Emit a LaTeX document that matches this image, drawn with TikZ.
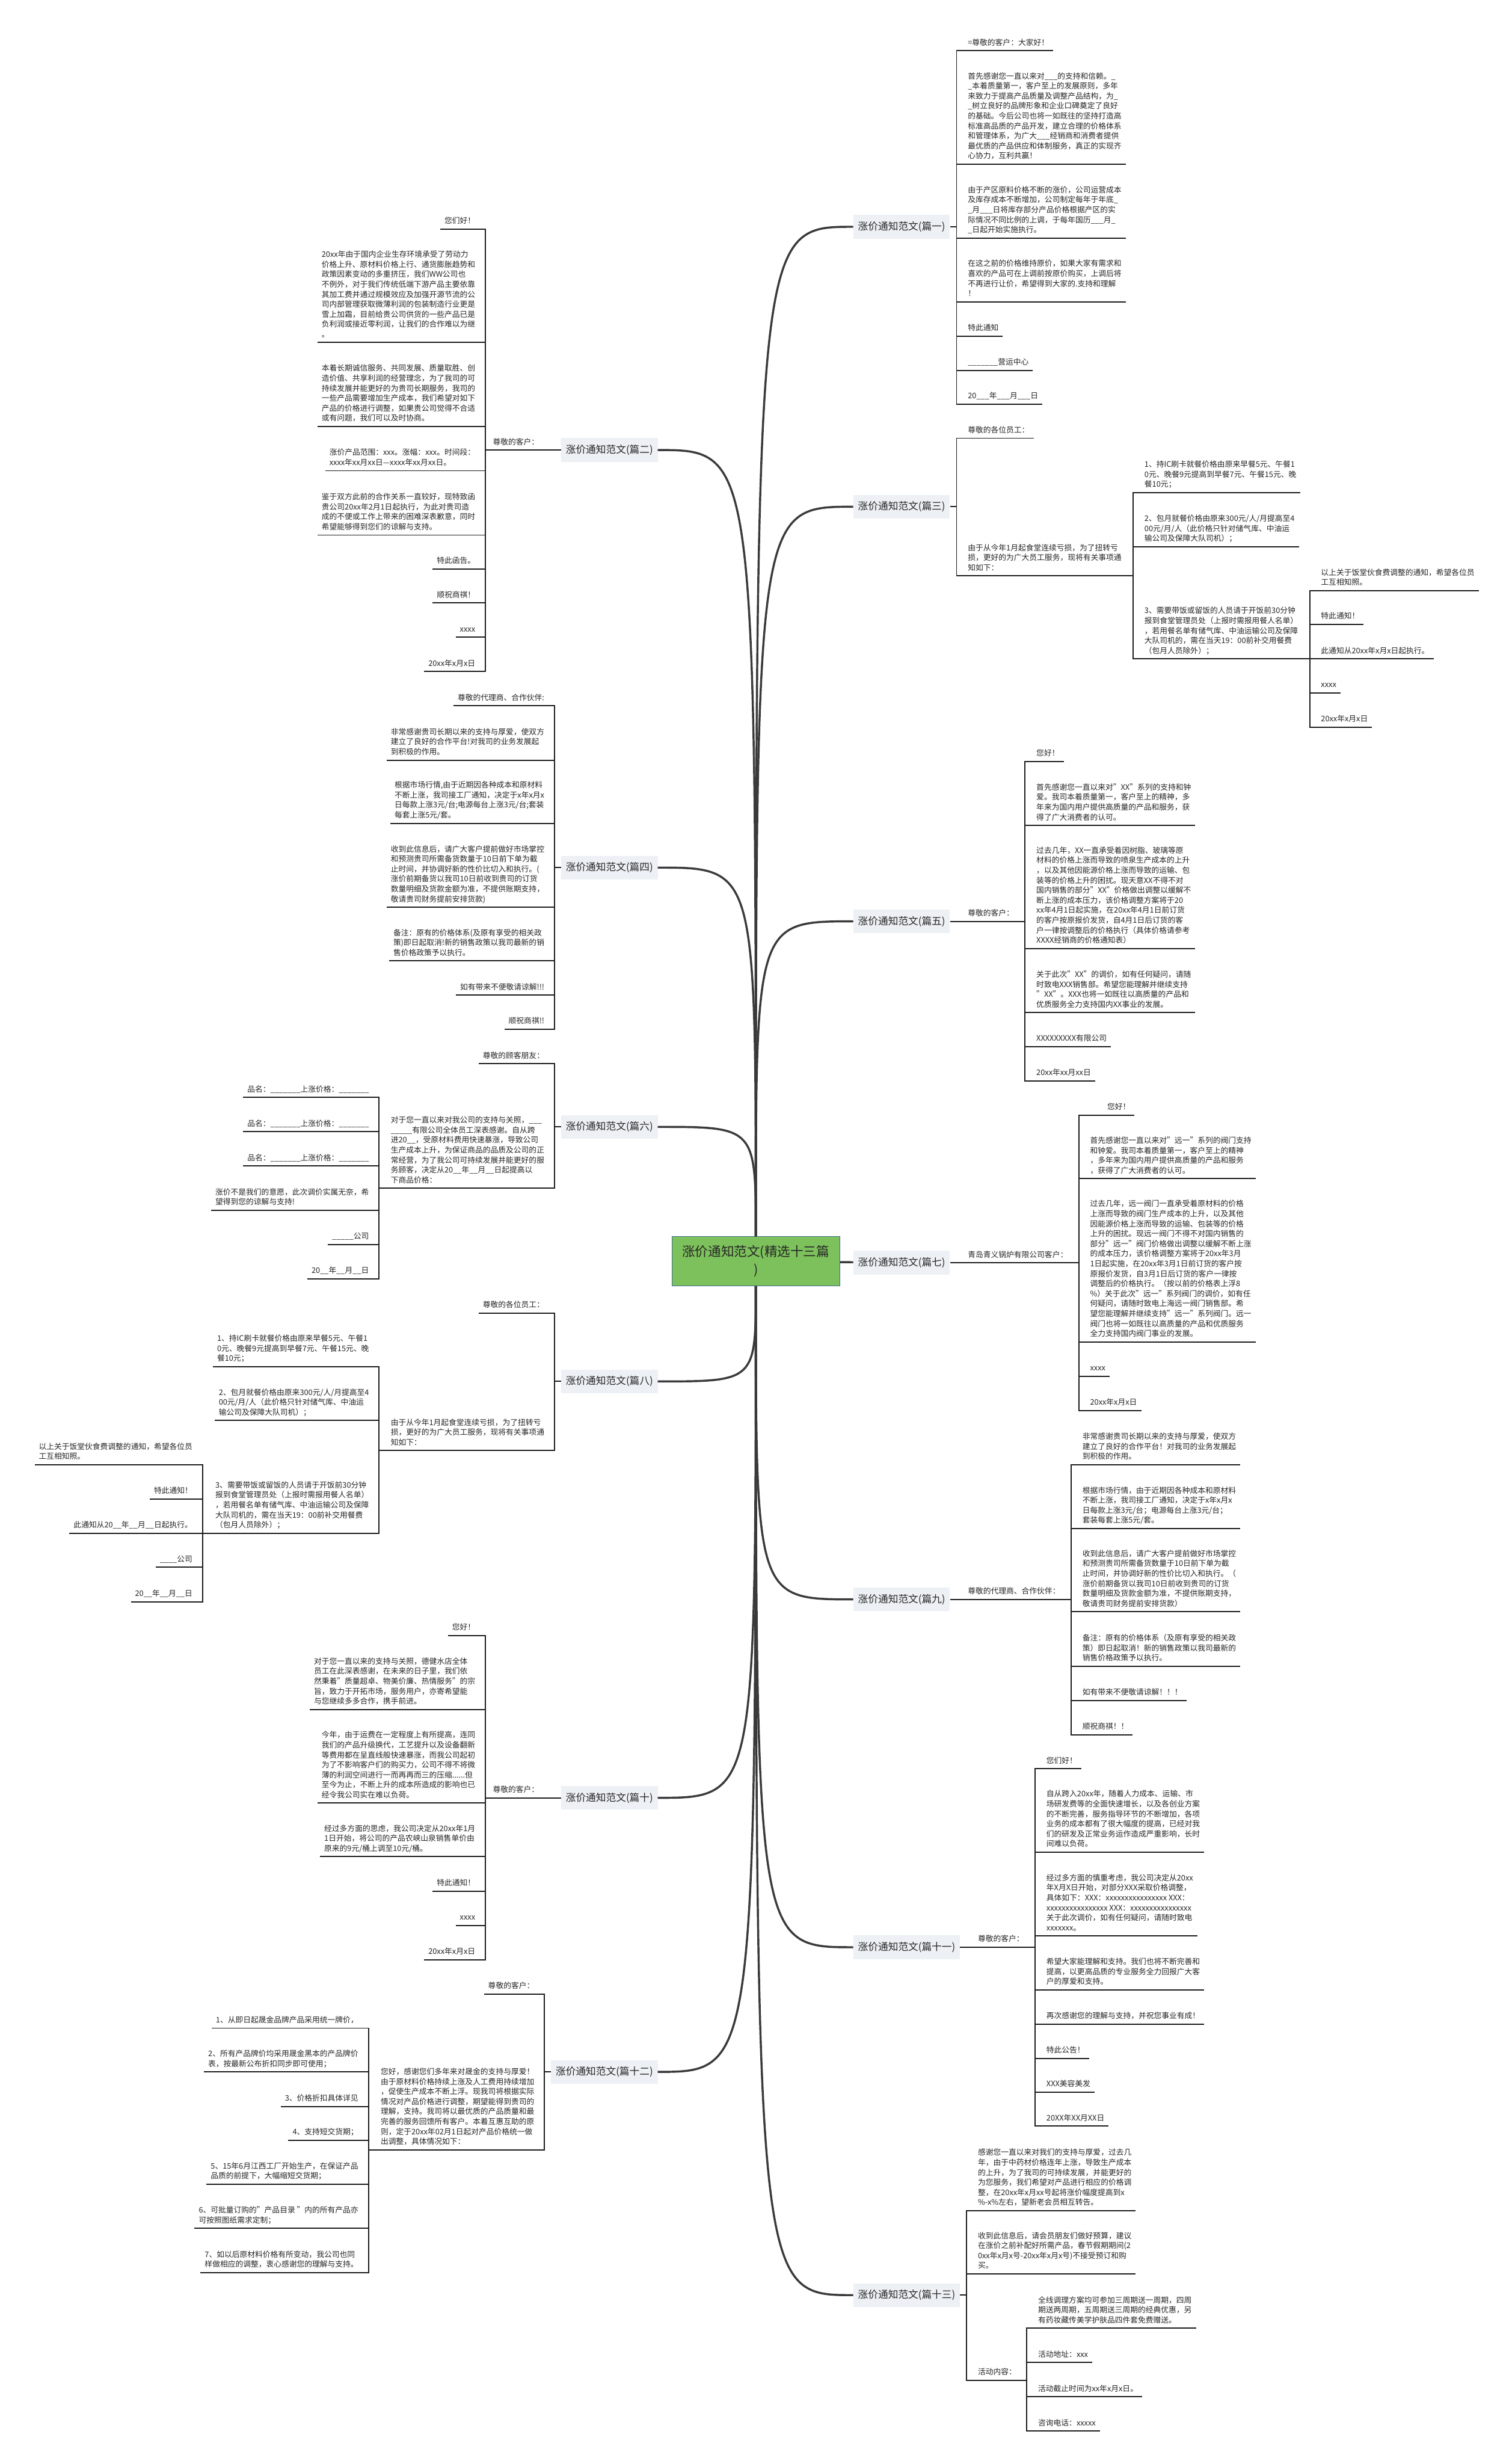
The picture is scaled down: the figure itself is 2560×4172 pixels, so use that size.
\documentclass[tikz,border=0pt]{standalone}
\usepackage{fontspec}
\setmainfont{Noto Sans CJK SC}
\definecolor{labfill}{RGB}{237,240,244}
\definecolor{rootfill}{RGB}{125,193,92}
\definecolor{rootline}{RGB}{62,108,140}
\definecolor{txt}{RGB}{38,38,38}
\definecolor{linec}{RGB}{28,28,28}
\definecolor{trunkc}{RGB}{58,58,58}
\newcommand{\leaffont}{\fontsize{13pt}{16.9pt}\selectfont}
\newcommand{\branchfont}{\fontsize{17pt}{20pt}\selectfont}
\newcommand{\rootfont}{\fontsize{22pt}{31pt}\selectfont}

\begin{document}
\begin{tikzpicture}[x=1pt, y=-1pt,
    leaf/.style={inner xsep=7pt, inner ysep=9pt, text depth=0pt, align=left, font=\leaffont, text=txt},
    leafr/.style={leaf, anchor=south west},
    leafl/.style={leaf, anchor=south east},
    branch/.style={fill=labfill, font=\branchfont, text=txt, inner xsep=8pt, minimum height=40pt},
    rootbox/.style={fill=rootfill, draw=rootline, line width=1pt, font=\rootfont, text=black!85, align=center, minimum width=284pt, minimum height=83pt},
    conn/.style={draw=linec, line width=2pt},
    trunk/.style={draw=trunkc, line width=3.5pt}]
\fill[white] (0,0) rectangle (2560,4172);
\useasboundingbox (0,0) rectangle (2560,4172);

% Nodes
\node[rootbox] (root) at (1280,2135.5) {涨价通知范文(精选十三篇\\)};
\node[branch, anchor=west] (t1) at (1445,384) {涨价通知范文(篇一)};
\node[branch, anchor=west] (t3) at (1445,858) {涨价通知范文(篇三)};
\node[branch, anchor=west] (t5) at (1445,1560) {涨价通知范文(篇五)};
\node[branch, anchor=west] (t7) at (1445,2138) {涨价通知范文(篇七)};
\node[branch, anchor=west] (t9) at (1445,2708) {涨价通知范文(篇九)};
\node[branch, anchor=west] (t11) at (1445,3297) {涨价通知范文(篇十一)};
\node[branch, anchor=west] (t13) at (1445,3886) {涨价通知范文(篇十三)};
\node[branch, anchor=east] (t2) at (1114,762) {涨价通知范文(篇二)};
\node[branch, anchor=east] (t4) at (1114,1469) {涨价通知范文(篇四)};
\node[branch, anchor=east] (t6) at (1114,1908) {涨价通知范文(篇六)};
\node[branch, anchor=east] (t8) at (1114,2339) {涨价通知范文(篇八)};
\node[branch, anchor=east] (t10) at (1114,3044) {涨价通知范文(篇十)};
\node[branch, anchor=east] (t12) at (1114,3508) {涨价通知范文(篇十二)};

\coordinate (s1) at (1620,384);
\coordinate (s3) at (1620,858);
\coordinate (s3b) at (1919,975);
\coordinate (s3e) at (2218,1115.6);
\coordinate (s5) at (1736,1560);
\coordinate (s7) at (1827,2138);
\coordinate (s9) at (1814,2708);
\coordinate (s11) at (1753,3297);
\coordinate (s13) at (1637,3886);
\coordinate (s13c) at (1739,4030);
\coordinate (s2) at (822,762);
\coordinate (s4) at (939,1469);
\coordinate (s6) at (939,1908);
\coordinate (s6b) at (642,2012);
\coordinate (s8) at (939,2339);
\coordinate (s8b) at (642,2456);
\coordinate (s8e) at (343,2596);
\coordinate (s10) at (822,3044);
\coordinate (s12) at (922,3508);
\coordinate (s12b) at (624,3640);

% 篇一
\node[leafr] (n1a) at (1632,86) {=尊敬的客户：大家好！};
\node[leafr] (n1b) at (1632,278) {首先感谢您一直以来对\_\_\_的支持和信赖。\_\\\_本着质量第一，客户至上的发展原则，多年\\来致力于提高产品质量及调整产品结构，为\_\\\_树立良好的品牌形象和企业口碑奠定了良好\\的基础。今后公司也将一如既往的坚持打造高\\标准高品质的产品开发，建立合理的价格体系\\和管理体系，为广大\_\_\_经销商和消费者提供\\最优质的产品供应和体制服务，真正的实现齐\\心协力，互利共赢！};
\node[leafr] (n1c) at (1632,403) {由于产区原料价格不断的涨价，公司运营成本\\及库存成本不断增加，公司制定每年于年底\_\\\_月\_\_\_日将库存部分产品价格根据产区的实\\际情况不同比例的上调，于每年国历\_\_\_月\_\\\_日起开始实施执行。};
\node[leafr] (n1d) at (1632,511) {在这之前的价格维持原价，如果大家有需求和\\喜欢的产品可在上调前按原价购买，上调后将\\不再进行让价，希望得到大家的.支持和理解\\！};
\node[leafr] (n1e) at (1632,569) {特此通知};
\node[leafr] (n1f) at (1632,627) {\_\_\_\_\_\_\_营运中心};
\node[leafr] (n1g) at (1632,684) {20\_\_\_年\_\_\_月\_\_\_日};

% 篇三
\node[leafr] (n3a) at (1632,742) {尊敬的各位员工：};
\node[leafr] (n3b) at (1632,975) {由于从今年1月起食堂连续亏损，为了扭转亏\\损，更好的为广大员工服务，现将有关事项通\\知如下：};
\node[leafr] (n3c) at (1931,834) {1、持IC刷卡就餐价格由原来早餐5元、午餐1\\0元、晚餐9元提高到早餐7元、午餐15元、晚\\餐10元；};
\node[leafr] (n3d) at (1931,925.5) {2、包月就餐价格由原来300元/人/月提高至4\\00元/月/人（此价格只针对储气库、中油运\\输公司及保障大队司机）；};
\node[leafr] (n3e) at (1931,1115.6) {3、需要带饭或留饭的人员请于开饭前30分钟\\报到食堂管理员处（上报时需报用餐人名单）\\，若用餐名单有储气库、中油运输公司及保障\\大队司机的，需在当天19：00前补交用餐费\\（包月人员除外）；};
\node[leafr] (n3f) at (2230,1000) {以上关于饭堂伙食费调整的通知，希望各位员\\工互相知照。};
\node[leafr] (n3g) at (2230,1057) {特此通知！};
\node[leafr] (n3h) at (2230,1115.6) {此通知从20xx年x月x日起执行。};
\node[leafr] (n3i) at (2230,1173) {xxxx};
\node[leafr] (n3j) at (2230,1231) {20xx年x月x日};

% 篇五
\node[leafr] (m5) at (1632,1560) {尊敬的客户：};
\node[leafr] (n5a) at (1748,1289) {您好！};
\node[leafr] (n5b) at (1748,1397.5) {首先感谢您一直以来对"XX"系列的支持和钟\\爱。我司本着质量第一，客户至上的精神，多\\年来为国内用户提供高质量的产品和服务，获\\得了广大消费者的认可。};
\node[leafr] (n5c) at (1748,1606) {过去几年，XX一直承受着因树脂、玻璃等原\\材料的价格上涨而导致的喷泉生产成本的上升\\，以及其他因能源价格上涨而导致的运输、包\\装等的价格上升的困扰。现天意XX不得不对\\国内销售的部分"XX"价格做出调整以缓解不\\断上涨的成本压力，该价格调整方案将于20\\xx年4月1日起实施，在20xx年4月1日前订货\\的客户按原报价发货，自4月1日后订货的客\\户一律按调整后的价格执行（具体价格请参考\\XXXX经销商的价格通知表）};
\node[leafr] (n5d) at (1748,1714.6) {关于此次"XX"的调价，如有任何疑问，请随\\时致电XXX销售部。希望您能理解并继续支持\\"XX"。XXX也将一如既往以高质量的产品和\\优质服务全力支持国内XX事业的发展。};
\node[leafr] (n5e) at (1748,1772) {XXXXXXXXX有限公司};
\node[leafr] (n5f) at (1748,1830) {20xx年xx月xx日};

% 篇七
\node[leafr] (m7) at (1632,2138) {青岛青义锅炉有限公司客户：};
\node[leafr] (n7a) at (1868,1888) {您好！};
\node[leafr] (n7b) at (1839,1995.6) {首先感谢您一直以来对"远一"系列的阀门支持\\和钟爱。我司本着质量第一，客户至上的精神\\，多年来为国内用户提供高质量的产品和服务\\，获得了广大消费者的认可。};
\node[leafr] (n7c) at (1839,2272) {过去几年，远一阀门一直承受着原材料的价格\\上涨而导致的阀门生产成本的上升，以及其他\\因能源价格上涨而导致的运输、包装等的价格\\上升的困扰。现远一阀门不得不对国内销售的\\部分"远一"阀门价格做出调整以缓解不断上涨\\的成本压力，该价格调整方案将于20xx年3月\\1日起实施，在20xx年3月1日前订货的客户按\\原报价发货，自3月1日后订货的客户一律按\\调整后的价格执行。（按以前的价格表上浮8\\\%）关于此次"远一"系列阀门的调价，如有任\\何疑问，请随时致电上海远一阀门销售部。希\\望您能理解并继续支持"远一"系列阀门。远一\\阀门也将一如既往以高质量的产品和优质服务\\全力支持国内阀门事业的发展。};
\node[leafr] (n7d) at (1839,2330) {xxxx};
\node[leafr] (n7e) at (1839,2388) {20xx年x月x日};

% 篇九
\node[leafr] (m9) at (1632,2708) {尊敬的代理商、合作伙伴：};
\node[leafr] (n9a) at (1826,2480) {非常感谢贵司长期以来的支持与厚爱，使双方\\建立了良好的合作平台！对我司的业务发展起\\到积极的作用。};
\node[leafr] (n9b) at (1826,2588) {根据市场行情，由于近期因各种成本和原材料\\不断上涨，我司接工厂通知，决定于x年x月x\\日每款上涨3元/台；电源每台上涨3元/台；\\套装每套上涨5元/套。};
\node[leafr] (n9c) at (1826,2729) {收到此信息后，请广大客户提前做好市场掌控\\和预测贵司所需备货数量于10日前下单为截\\止时间，并协调好新的性价比切入和执行。（\\涨价前期备货以我司10日前收到贵司的订货\\数量明细及货款金额为准，不提供账期支持，\\敬请贵司财务提前安排货款）};
\node[leafr] (n9d) at (1826,2821) {备注：原有的价格体系（及原有享受的相关政\\策）即日起取消！新的销售政策以我司最新的\\销售价格政策予以执行。};
\node[leafr] (n9e) at (1826,2879) {如有带来不便敬请谅解！！！};
\node[leafr] (n9f) at (1826,2937) {顺祝商祺！！};

% 篇十一
\node[leafr] (m11) at (1649,3297) {尊敬的客户：};
\node[leafr] (n11a) at (1765,2995) {您们好！};
\node[leafr] (n11b) at (1765,3136) {自从跨入20xx年，随着人力成本、运输、市\\场研发费等的全面快速增长，以及各创业方案\\的不断完善，服务指导环节的不断增加，各项\\业务的成本都有了很大幅度的提高，已经对我\\们的研发及正常业务运作造成严重影响，长时\\间难以负荷。};
\node[leafr] (n11c) at (1765,3278) {经过多方面的慎重考虑，我公司决定从20xx\\年X月X日开始，对部分XXX采取价格调整，\\具体如下：XXX：xxxxxxxxxxxxxxxx XXX：\\xxxxxxxxxxxxxxxx XXX：xxxxxxxxxxxxxxxx\\关于此次调价，如有任何疑问，请随时致电\\xxxxxxx。};
\node[leafr] (n11d) at (1765,3369) {希望大家能理解和支持。我们也将不断完善和\\提高，以更高品质的专业服务全力回报广大客\\户的厚爱和支持。};
\node[leafr] (n11e) at (1765,3427) {再次感谢您的理解与支持，并祝您事业有成！};
\node[leafr] (n11f) at (1765,3485) {特此公告！};
\node[leafr] (n11g) at (1765,3542) {XXX美容美发};
\node[leafr] (n11h) at (1765,3600) {20XX年XX月XX日};

% 篇十三
\node[leafr] (n13a) at (1649,3743) {感谢您一直以来对我们的支持与厚爱，过去几\\年，由于中药材价格连年上涨，导致生产成本\\的上升，为了我司的可持续发展，并能更好的\\为您服务，我们希望对产品进行相应的价格调\\整，在20xx年x月xx号起将涨价幅度提高到x\\\%-x\%左右，望新老会员相互转告。};
\node[leafr] (n13b) at (1649,3850) {收到此信息后，请会员朋友们做好预算，建议\\在涨价之前补配好所需产品，春节假期期间(2\\0xx年x月x号-20xx年x月x号)不接受预订和购\\买。};
\node[leafr] (n13c) at (1649,4030) {活动内容：};
\node[leafr] (n13d) at (1751,3942) {全线调理方案均可参加三周期送一周期，四周\\期送两周期，五周期送三周期的经典优惠，另\\有药妆藏传美学护肤品四件套免费赠送。};
\node[leafr] (n13e) at (1751,4000) {活动地址：xxx};
\node[leafr] (n13f) at (1751,4058) {活动截止时间为xx年x月x日。};
\node[leafr] (n13g) at (1751,4116) {咨询电话：xxxxx};

% 篇二
\node[leafl] (m2) at (920,762) {尊敬的客户：};
\node[leafl] (n2a) at (812,388) {您们好！};
\node[leafl] (n2b) at (812,580) {20xx年由于国内企业生存环境承受了劳动力\\价格上升、原材料价格上行、通货膨胀趋势和\\政策因素变动的多重挤压，我们WW公司也\\不例外，对于我们传统低端下游产品主要依靠\\其加工费并通过规模效应及加强开源节流的公\\司内部管理获取微薄利润的包装制造行业更是\\雪上加霜，目前给贵公司供货的一些产品已是\\负利润或接近零利润，让我们的合作难以为继\\。};
\node[leafl] (n2c) at (812,722) {本着长期诚信服务、共同发展、质量取胜、创\\造价值、共享利润的经营理念，为了我司的可\\持续发展并能更好的为贵司长期服务，我司的\\一些产品需要增加生产成本，我们希望对如下\\产品的价格进行调整，如果贵公司觉得不合适\\或有问题，我们可以及时协商。};
\node[leafl] (n2d) at (812,797) {涨价产品范围：xxx。涨幅：xxx。时间段：\\xxxx年xx月xx日—xxxx年xx月xx日。};
\node[leafl] (n2e) at (812,906) {鉴于双方此前的合作关系一直较好，现特致函\\贵公司20xx年2月1日起执行，为此对贵司造\\成的不便或工作上带来的困难深表歉意，同时\\希望能够得到您们的谅解与支持。};
\node[leafl] (n2f) at (812,963.5) {特此函告。};
\node[leafl] (n2g) at (812,1021) {顺祝商祺！};
\node[leafl] (n2h) at (812,1079) {xxxx};
\node[leafl] (n2i) at (812,1137) {20xx年x月x日};

% 篇四
\node[leafl] (n4a) at (929,1195) {尊敬的代理商、合作伙伴:};
\node[leafl] (n4b) at (929,1287) {非常感谢贵司长期以来的支持与厚爱，使双方\\建立了良好的合作平台!对我司的业务发展起\\到积极的作用。};
\node[leafl] (n4c) at (929,1394) {根据市场行情,由于近期因各种成本和原材料\\不断上涨，我司接工厂通知，决定于x年x月x\\日每款上涨3元/台;电源每台上涨3元/台;套装\\每套上涨5元/套。};
\node[leafl] (n4d) at (929,1536) {收到此信息后，请广大客户提前做好市场掌控\\和预测贵司所需备货数量于10日前下单为截\\止时间，并协调好新的性价比切入和执行。(\\涨价前期备货以我司10日前收到贵司的订货\\数量明细及货款金额为准，不提供账期支持，\\敬请贵司财务提前安排货款)};
\node[leafl] (n4e) at (929,1627) {备注：原有的价格体系(及原有享受的相关政\\策)即日起取消!新的销售政策以我司最新的销\\售价格政策予以执行。};
\node[leafl] (n4f) at (929,1685) {如有带来不便敬请谅解!!!};
\node[leafl] (n4g) at (929,1742.5) {顺祝商祺!!};

% 篇六
\node[leafl] (n6a) at (929,1801) {尊敬的顾客朋友：};
\node[leafl] (n6b) at (929,2012) {对于您一直以来对我公司的支持与关照，\_\_\_\\\_\_\_\_\_有限公司全体员工深表感谢。自从跨\\进20\_\_，受原材料费用快速暴涨，导致公司\\生产成本上升，为保证商品的品质及公司的正\\常经营，为了我公司可持续发展并能更好的服\\务顾客，决定从20\_\_年\_\_月\_\_日起提高以\\下商品价格：};
\node[leafl] (n6c) at (632,1858) {品名：\_\_\_\_\_\_\_上涨价格：\_\_\_\_\_\_\_};
\node[leafl] (n6d) at (632,1916) {品名：\_\_\_\_\_\_\_上涨价格：\_\_\_\_\_\_\_};
\node[leafl] (n6e) at (632,1974) {品名：\_\_\_\_\_\_\_上涨价格：\_\_\_\_\_\_\_};
\node[leafl] (n6f) at (632,2049) {涨价不是我们的意愿，此次调价实属无奈，希\\望得到您的谅解与支持!};
\node[leafl] (n6g) at (632,2107) {\_\_\_\_\_公司};
\node[leafl] (n6h) at (632,2165) {20\_\_年\_\_月\_\_日};

% 篇八
\node[leafl] (n8a) at (929,2223) {尊敬的各位员工：};
\node[leafl] (n8b) at (929,2456) {由于从今年1月起食堂连续亏损，为了扭转亏\\损，更好的为广大员工服务，现将有关事项通\\知如下：};
\node[leafl] (n8c) at (632,2314) {1、持IC刷卡就餐价格由原来早餐5元、午餐1\\0元、晚餐9元提高到早餐7元、午餐15元、晚\\餐10元；};
\node[leafl] (n8d) at (632,2405) {2、包月就餐价格由原来300元/人/月提高至4\\00元/月/人（此价格只针对储气库、中油运\\输公司及保障大队司机）；};
\node[leafl] (n8e) at (632,2596) {3、需要带饭或留饭的人员请于开饭前30分钟\\报到食堂管理员处（上报时需报用餐人名单）\\，若用餐名单有储气库、中油运输公司及保障\\大队司机的，需在当天19：00前补交用餐费\\（包月人员除外）；};
\node[leafl] (n8f) at (333,2480) {以上关于饭堂伙食费调整的通知，希望各位员\\工互相知照。};
\node[leafl] (n8g) at (333,2538) {特此通知！};
\node[leafl] (n8h) at (333,2596) {此通知从20\_\_年\_\_月\_\_日起执行。};
\node[leafl] (n8i) at (333,2653.5) {\_\_\_\_公司};
\node[leafl] (n8j) at (333,2712) {20\_\_年\_\_月\_\_日};

% 篇十
\node[leafl] (m10) at (920,3044) {尊敬的客户：};
\node[leafl] (n10a) at (812,2769) {您好！};
\node[leafl] (n10b) at (812,2894.5) {对于您一直以来的支持与关照，德健水店全体\\员工在此深表感谢，在未来的日子里，我们依\\然秉着"质量超卓、物美价廉、热情服务"的宗\\旨，致力于开拓市场，服务用户，亦寄希望能\\与您继续多多合作，携手前进。};
\node[leafl] (n10c) at (812,3053) {今年，由于运费在一定程度上有所提高，连同\\我们的产品升级换代，工艺提升以及设备翻新\\等费用都在呈直线般快速暴涨，而我公司起初\\为了不影响客户们的购买力，公司不得不将微\\薄的利润空间进行一而再再而三的压缩......但\\至今为止，不断上升的成本所造成的影响也已\\经令我公司实在难以负荷。};
\node[leafl] (n10d) at (812,3143.5) {经过多方面的思虑，我公司决定从20xx年1月\\1日开始，将公司的产品农峡山泉销售单价由\\原来的9元/桶上调至10元/桶。};
\node[leafl] (n10e) at (812,3202) {特此通知！};
\node[leafl] (n10f) at (812,3260) {xxxx};
\node[leafl] (n10g) at (812,3318) {20xx年x月x日};

% 篇十二
\node[leafl] (n12a) at (912,3376) {尊敬的客户：};
\node[leafl] (n12b) at (912,3640) {您好，感谢您们多年来对晟金的支持与厚爱！\\由于原材料价格持续上涨及人工费用持续增加\\，促使生产成本不断上浮。现我司将根据实际\\情况对产品价格进行调整，期望能得到贵司的\\理解，支持。我司将以最优质的产品质量和最\\完善的服务回馈所有客户。本着互惠互助的原\\则，定于20xx年02月1日起对产品价格统一做\\出调整，具体情况如下：};
\node[leafl] (n12c) at (614,3434) {1、从即日起晟金品牌产品采用统一牌价，};
\node[leafl] (n12d) at (614,3508) {2、所有产品牌价均采用晟金黑本的产品牌价\\表，按最新公布折扣同步即可使用；};
\node[leafl] (n12e) at (614,3566.6) {3、价格折扣具体详见};
\node[leafl] (n12f) at (614,3624) {4、支持短交货期；};
\node[leafl] (n12g) at (614,3698) {5、15年6月江西工厂开始生产，在保证产品\\品质的前提下，大幅缩短交货期；};
\node[leafl] (n12h) at (614,3773) {6、可批量订购的"产品目录 "内的所有产品亦\\可按照图纸需求定制；};
\node[leafl] (n12i) at (614,3848) {7、如以后原材料价格有所变动，我公司也同\\样做相应的调整，衷心感谢您的理解与支持。};

% Edges
\draw[trunk] (root.north) .. controls (root.north |- t1) .. (t1.west);
\draw[trunk] (root.north) .. controls (root.north |- t3) .. (t3.west);
\draw[trunk] (root.north) .. controls (root.north |- t5) .. (t5.west);
\draw[trunk] (root) -- (t7);
\draw[trunk] (root.south) .. controls (root.south |- t9) .. (t9.west);
\draw[trunk] (root.south) .. controls (root.south |- t11) .. (t11.west);
\draw[trunk] (root.south) .. controls (root.south |- t13) .. (t13.west);
\draw[trunk] (root.north) .. controls (root.north |- t2) .. (t2.east);
\draw[trunk] (root.north) .. controls (root.north |- t4) .. (t4.east);
\draw[trunk] (root.north) .. controls (root.north |- t6) .. (t6.east);
\draw[trunk] (root.south) .. controls (root.south |- t8) .. (t8.east);
\draw[trunk] (root.south) .. controls (root.south |- t10) .. (t10.east);
\draw[trunk] (root.south) .. controls (root.south |- t12) .. (t12.east);

\draw[conn] (t1.east) -- (s1);
\draw[conn] (s1) |- (n1a.south east);
\draw[conn] (s1) |- (n1b.south east);
\draw[conn] (s1) |- (n1c.south east);
\draw[conn] (s1) |- (n1d.south east);
\draw[conn] (s1) |- (n1e.south east);
\draw[conn] (s1) |- (n1f.south east);
\draw[conn] (s1) |- (n1g.south east);

\draw[conn] (t3.east) -- (s3);
\draw[conn] (s3) |- (n3a.south east);
\draw[conn] (s3) |- (n3b.south east) -- (s3b);
\draw[conn] (s3b) |- (n3c.south east);
\draw[conn] (s3b) |- (n3d.south east);
\draw[conn] (s3b) |- (n3e.south east) -- (s3e);
\draw[conn] (s3e) |- (n3f.south east);
\draw[conn] (s3e) |- (n3g.south east);
\draw[conn] (s3e) |- (n3h.south east);
\draw[conn] (s3e) |- (n3i.south east);
\draw[conn] (s3e) |- (n3j.south east);

\draw[conn] (t5.east) -- (m5.south east) -- (s5);
\draw[conn] (s5) |- (n5a.south east);
\draw[conn] (s5) |- (n5b.south east);
\draw[conn] (s5) |- (n5c.south east);
\draw[conn] (s5) |- (n5d.south east);
\draw[conn] (s5) |- (n5e.south east);
\draw[conn] (s5) |- (n5f.south east);

\draw[conn] (t7.east) -- (m7.south east) -- (s7);
\draw[conn] (s7) |- (n7a.south east);
\draw[conn] (s7) |- (n7b.south east);
\draw[conn] (s7) |- (n7c.south east);
\draw[conn] (s7) |- (n7d.south east);
\draw[conn] (s7) |- (n7e.south east);

\draw[conn] (t9.east) -- (m9.south east) -- (s9);
\draw[conn] (s9) |- (n9a.south east);
\draw[conn] (s9) |- (n9b.south east);
\draw[conn] (s9) |- (n9c.south east);
\draw[conn] (s9) |- (n9d.south east);
\draw[conn] (s9) |- (n9e.south east);
\draw[conn] (s9) |- (n9f.south east);

\draw[conn] (t11.east) -- (m11.south east) -- (s11);
\draw[conn] (s11) |- (n11a.south east);
\draw[conn] (s11) |- (n11b.south east);
\draw[conn] (s11) |- (n11c.south east);
\draw[conn] (s11) |- (n11d.south east);
\draw[conn] (s11) |- (n11e.south east);
\draw[conn] (s11) |- (n11f.south east);
\draw[conn] (s11) |- (n11g.south east);
\draw[conn] (s11) |- (n11h.south east);

\draw[conn] (t13.east) -- (s13);
\draw[conn] (s13) |- (n13a.south east);
\draw[conn] (s13) |- (n13b.south east);
\draw[conn] (s13) |- (n13c.south east) -- (s13c);
\draw[conn] (s13c) |- (n13d.south east);
\draw[conn] (s13c) |- (n13e.south east);
\draw[conn] (s13c) |- (n13f.south east);
\draw[conn] (s13c) |- (n13g.south east);

\draw[conn] (t2.west) -- (m2.south west) -- (s2);
\draw[conn] (s2) |- (n2a.south west);
\draw[conn] (s2) |- (n2b.south west);
\draw[conn] (s2) |- (n2c.south west);
\draw[conn] (s2) |- (n2d.south west);
\draw[conn] (s2) |- (n2e.south west);
\draw[conn] (s2) |- (n2f.south west);
\draw[conn] (s2) |- (n2g.south west);
\draw[conn] (s2) |- (n2h.south west);
\draw[conn] (s2) |- (n2i.south west);

\draw[conn] (t4.west) -- (s4);
\draw[conn] (s4) |- (n4a.south west);
\draw[conn] (s4) |- (n4b.south west);
\draw[conn] (s4) |- (n4c.south west);
\draw[conn] (s4) |- (n4d.south west);
\draw[conn] (s4) |- (n4e.south west);
\draw[conn] (s4) |- (n4f.south west);
\draw[conn] (s4) |- (n4g.south west);

\draw[conn] (t6.west) -- (s6);
\draw[conn] (s6) |- (n6a.south west);
\draw[conn] (s6) |- (n6b.south west) -- (s6b);
\draw[conn] (s6b) |- (n6c.south west);
\draw[conn] (s6b) |- (n6d.south west);
\draw[conn] (s6b) |- (n6e.south west);
\draw[conn] (s6b) |- (n6f.south west);
\draw[conn] (s6b) |- (n6g.south west);
\draw[conn] (s6b) |- (n6h.south west);

\draw[conn] (t8.west) -- (s8);
\draw[conn] (s8) |- (n8a.south west);
\draw[conn] (s8) |- (n8b.south west) -- (s8b);
\draw[conn] (s8b) |- (n8c.south west);
\draw[conn] (s8b) |- (n8d.south west);
\draw[conn] (s8b) |- (n8e.south west) -- (s8e);
\draw[conn] (s8e) |- (n8f.south west);
\draw[conn] (s8e) |- (n8g.south west);
\draw[conn] (s8e) |- (n8h.south west);
\draw[conn] (s8e) |- (n8i.south west);
\draw[conn] (s8e) |- (n8j.south west);

\draw[conn] (t10.west) -- (m10.south west) -- (s10);
\draw[conn] (s10) |- (n10a.south west);
\draw[conn] (s10) |- (n10b.south west);
\draw[conn] (s10) |- (n10c.south west);
\draw[conn] (s10) |- (n10d.south west);
\draw[conn] (s10) |- (n10e.south west);
\draw[conn] (s10) |- (n10f.south west);
\draw[conn] (s10) |- (n10g.south west);

\draw[conn] (t12.west) -- (s12);
\draw[conn] (s12) |- (n12a.south west);
\draw[conn] (s12) |- (n12b.south west) -- (s12b);
\draw[conn] (s12b) |- (n12c.south west);
\draw[conn] (s12b) |- (n12d.south west);
\draw[conn] (s12b) |- (n12e.south west);
\draw[conn] (s12b) |- (n12f.south west);
\draw[conn] (s12b) |- (n12g.south west);
\draw[conn] (s12b) |- (n12h.south west);
\draw[conn] (s12b) |- (n12i.south west);
\end{tikzpicture}
\end{document}
